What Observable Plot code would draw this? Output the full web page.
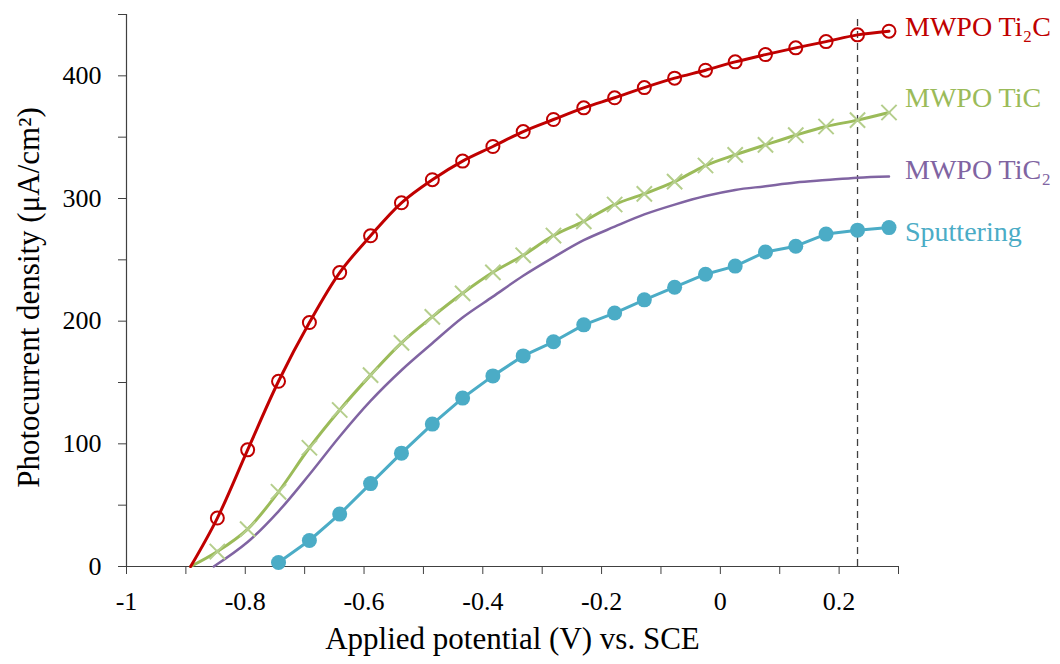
<!DOCTYPE html>
<html>
<head>
<meta charset="utf-8">
<script src="https://cdn.jsdelivr.net/npm/d3@7"></script>
<script src="https://cdn.jsdelivr.net/npm/@observablehq/plot@0.6"></script>
<style>
  html, body { margin: 0; padding: 0; background: #fff; }
  #chart { width: 1060px; height: 664px; }
</style>
</head>
<body>
<div id="chart"></div>
<script>
// Applied potential (V vs. SCE) of the measured points
const potential = [-0.847, -0.796, -0.744, -0.692, -0.641, -0.589, -0.537, -0.485, -0.434, -0.383,
  -0.332, -0.281, -0.230, -0.178, -0.128, -0.077, -0.025, 0.025, 0.076, 0.127, 0.178, 0.231, 0.284];

// Photocurrent density (µA/cm²)
const ti2c = [39.5, 95.1, 151.0, 198.9, 239.6, 269.6, 296.5, 315.3, 330.5, 342.4, 354.6, 364.4,
  373.9, 382.1, 390.4, 398.1, 404.6, 411.4, 417.3, 422.8, 427.9, 433.4, 436.4];
const tic = [12.2, 30.5, 60.9, 96.8, 127.6, 156.0, 182.3, 203.5, 222.7, 239.8, 253.7, 269.8,
  281.4, 295.1, 303.8, 313.7, 326.9, 335.6, 343.7, 351.6, 358.7, 363.9, 370.1];
// TiC2 curve (no markers), sampled from potential[1] onward
const tic2 = [20, 45, 75, 106, 135, 160, 182, 203, 220, 237, 252, 266, 277, 287, 295, 302,
  307, 310, 313, 315, 317, 318];
// Sputtering, from potential[2] onward
const sputtering = [3.3, 21.2, 42.7, 67.6, 92.4, 116.1, 137.3, 155.4, 171.7, 183.2, 197.0, 206.6,
  217.4, 227.7, 238.3, 244.9, 256.4, 261.1, 271.0, 274.2, 276.3];

// onset potentials where curves leave zero
const onsetTi2C = -0.892, onsetTiC = -0.892, onsetTiC2 = -0.853;
// reference potential (dashed line)
const refPotential = 0.231;

const seriesNames = ["MWPO Ti\u2082C", "MWPO TiC", "MWPO TiC\u2082", "Sputtering"];
const seriesColors = ["#C00000", "#9BBB59", "#8064A2", "#4BACC6"];

const xTicks = d3.range(-10, 4).map(i => i / 10);
const xLabelled = d3.range(-10, 3, 2).map(i => i / 10);
const yTicks = d3.range(0, 451, 50);

const ptsTi2C = potential.map((x, i) => ({x, y: ti2c[i]}));
const ptsTiC = potential.map((x, i) => ({x, y: tic[i]}));
const ptsTiC2 = potential.slice(1).map((x, i) => ({x, y: tic2[i]}));
const ptsSput = potential.slice(2).map((x, i) => ({x, y: sputtering[i]}));

const lineTi2C = [{x: onsetTi2C, y: 0}, ...ptsTi2C];
const lineTiC = [{x: onsetTiC, y: 0}, ...ptsTiC];
const lineTiC2 = [{x: onsetTiC2, y: 0}, ...ptsTiC2];

const lastPts = [ptsTi2C, ptsTiC, ptsTiC2, ptsSput].map((p, i) => ({...p[p.length - 1], name: seriesNames[i]}));
const labelDy = [-4, -14, -6, 4];

const fmtX = d => xLabelled.some(v => Math.abs(v - d) < 1e-9) ? String(Math.round(d * 10) / 10) : "";

const chart = Plot.plot({
  width: 1060,
  height: 664,
  marginLeft: 126,
  marginRight: 162,
  marginTop: 14,
  marginBottom: 98,
  x: {domain: [-1, 0.3]},
  y: {domain: [0, 450]},
  style: {fontFamily: "'Liberation Serif', 'Times New Roman', serif", fontSize: "26px", background: "#fff", color: "#000"},
  marks: [
    Plot.axisX({ticks: xTicks, tickSize: 8, tickPadding: 17, tickFormat: fmtX, label: null, stroke: "#404040", fontSize: 26}),
    Plot.axisY({ticks: yTicks, tickSize: 8, tickPadding: 17, tickFormat: d => d % 100 === 0 ? String(d) : "", label: null, stroke: "#404040", fontSize: 26}),
    Plot.ruleY([0], {x1: -1, x2: 0.3, stroke: "#404040", strokeWidth: 1.2}),
    Plot.ruleX([-1], {y1: 0, y2: 450, stroke: "#404040", strokeWidth: 1.2}),
    Plot.ruleX([refPotential], {y1: 0, y2: 446, stroke: "#404040", strokeWidth: 1.3, strokeDasharray: "7,5"}),
    Plot.line(lineTiC2, {x: "x", y: "y", stroke: seriesColors[2], strokeWidth: 2.5, curve: "catmull-rom"}),
    Plot.line(ptsSput, {x: "x", y: "y", stroke: seriesColors[3], strokeWidth: 3}),
    Plot.dot(ptsSput, {x: "x", y: "y", r: 7.5, fill: seriesColors[3], stroke: "none"}),
    Plot.line(lineTiC, {x: "x", y: "y", stroke: seriesColors[1], strokeWidth: 3, curve: "catmull-rom"}),
    Plot.dot(ptsTiC, {x: "x", y: "y", r: 7, symbol: "times", stroke: "#B5CE8C", strokeWidth: 2}),
    Plot.line(lineTi2C, {x: "x", y: "y", stroke: seriesColors[0], strokeWidth: 3, curve: "catmull-rom"}),
    Plot.dot(ptsTi2C, {x: "x", y: "y", r: 6.5, fill: "none", stroke: seriesColors[0], strokeWidth: 2}),
    ...lastPts.map((d, i) => Plot.text([d], {x: "x", y: "y", text: "name", fill: seriesColors[i], textAnchor: "start", dx: 16, dy: labelDy[i], fontSize: 28})),
    Plot.text(["Applied potential (V) vs. SCE"], {frameAnchor: "bottom", lineAnchor: "middle", dy: 73, fontSize: 31, fill: "#000"}),
    Plot.text(["Photocurrent density (\u03bcA/cm\u00b2)"], {frameAnchor: "left", textAnchor: "middle", lineAnchor: "middle", dx: -97, dy: 7, rotate: -90, fontSize: 31, fill: "#000"})
  ]
});
document.getElementById("chart").appendChild(chart);
</script>
</body>
</html>
